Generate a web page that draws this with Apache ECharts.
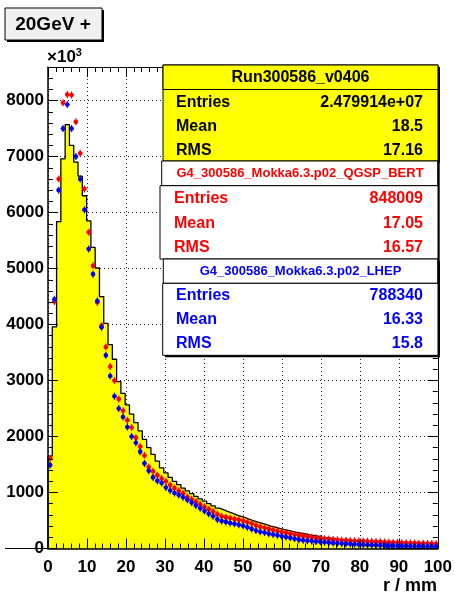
<!DOCTYPE html>
<html>
<head>
<meta charset="utf-8">
<script src="https://cdn.jsdelivr.net/npm/echarts@6/dist/echarts.min.js"></script>
<style>
html,body{margin:0;padding:0;background:#fff;}
#chart{width:455px;height:594px;}
</style>
</head>
<body>
<div id="chart"></div>
<script>
// ---- data (bin width 1.1 mm, bins starting at r = 0) ----
const binWidth = 1.1;
const xTickLabels = ['0','10','20','30','40','50','60','70','80','90','100'];
const yTickLabels = ['0','1000','2000','3000','4000','5000','6000','7000','8000'];

// Data run (yellow histogram)
const dataRun = [1650, 3960, 5840, 6960, 7570, 7200, 6900, 6650, 6300, 5850,
 5380, 5010, 4500, 4020, 3640, 3380, 2980, 2770, 2565, 2400,
 2250, 2100, 1950, 1800, 1680, 1560, 1440, 1350, 1270, 1200,
 1140, 1080, 1030, 980, 930, 885, 845, 800, 760, 720,
 690, 660, 630, 600, 575, 550, 520, 495, 470, 450,
 425, 400, 380, 360, 340, 325, 305, 290, 275, 260,
 245, 232, 220, 205, 195, 185, 175, 162, 152, 148,
 142, 138, 132, 128, 122, 115, 108, 100, 90, 0,
 0, 0, 0, 0, 0, 0, 0, 0, 0, 0, 0];

// G4 QGSP_BERT (red points)
const qgspBert = [1610, 4410, 6600, 7960, 8110, 8100, 7620, 7060, 6420, 5650,
 5050, 4400, 3980, 3600, 3250, 3000, 2670, 2460, 2290, 2160,
 1980, 1820, 1660, 1455, 1380, 1310, 1250, 1200, 1135, 1080,
 1030, 985, 920, 880, 840, 790, 745, 700, 660, 610,
 575, 560, 545, 525, 515, 495, 470, 445, 415, 390,
 370, 350, 330, 310, 295, 280, 265, 250, 235, 225,
 215, 200, 190, 180, 175, 168, 160, 155, 148, 145,
 140, 138, 135, 132, 128, 124, 122, 120, 115, 112,
 108, 106, 104, 100, 98, 97, 95, 93, 90, 88, 85];

// G4 LHEP (blue points)
const lhep = [1490, 4450, 6400, 7500, 7930, 7500, 7000, 6600, 6050, 5350,
 4900, 4420, 3950, 3450, 3080, 2720, 2500, 2350, 2170, 2000,
 1890, 1730, 1520, 1390, 1270, 1210, 1170, 1090, 1035, 990,
 955, 915, 870, 820, 770, 720, 670, 620, 575, 520,
 490, 475, 455, 440, 425, 405, 380, 350, 320, 300,
 285, 265, 250, 235, 220, 205, 190, 175, 158, 148,
 140, 132, 125, 120, 112, 105, 98, 92, 88, 85,
 80, 76, 72, 68, 64, 60, 57, 55, 52, 50,
 48, 46, 45, 44, 42, 41, 40, 39, 37, 36, 35];

const statsData = ['Entries','Mean','RMS'];
const statsRun = ['2.479914e+07','18.5','17.16'];
const statsBert = ['848009','17.05','16.57'];
const statsLhep = ['788340','16.33','15.8'];

// ---- build ----
const FONT = '"Liberation Sans", Arial, Helvetica, sans-serif';
const X_MIN = 0, X_MAX = 100, Y_MIN = 0, Y_MAX = 8600;

const histPts = [[0, 0]];
dataRun.forEach((v, k) => histPts.push([k * binWidth, v]));
histPts.push([dataRun.length * binWidth, 0]);

const toPts = arr => arr.map((v, k) => [(k + 0.5) * binWidth, v]);

function markerRenderer(color) {
  return function (params, api) {
    const x = api.value(0), y = api.value(1);
    const c = api.coord([x, y]);
    const l = api.coord([x - binWidth / 2, y]);
    const r = api.coord([x + binWidth / 2, y]);
    return {
      type: 'group',
      children: [
        {type: 'line', shape: {x1: l[0], y1: c[1], x2: r[0], y2: c[1]}, style: {stroke: color, lineWidth: 1.2}},
        {type: 'line', shape: {x1: c[0], y1: c[1] - 3.5, x2: c[0], y2: c[1] + 3.5}, style: {stroke: color, lineWidth: 1.2}},
        {type: 'circle', shape: {cx: c[0], cy: c[1], r: 2.3}, style: {fill: color}}
      ]
    };
  };
}

const labelStyle = {color: '#000', fontFamily: FONT, fontWeight: 'bold', fontSize: 17};

function xAx(opts) {
  return Object.assign({
    type: 'value', min: X_MIN, max: X_MAX, interval: 10,
    axisLine: {show: false, onZero: false},
    axisTick: {show: false}, axisLabel: {show: false}, splitLine: {show: false}
  }, opts);
}
function yAx(opts) {
  return Object.assign({
    type: 'value', min: Y_MIN, max: Y_MAX, interval: 1000,
    axisLine: {show: false, onZero: false},
    axisTick: {show: false}, axisLabel: {show: false}, splitLine: {show: false}
  }, opts);
}

const gridLine = {show: true, lineStyle: {color: '#222', width: 1, type: [1, 3]}};

const xAxes = [
  xAx({position: 'bottom', z: 0,
       axisLabel: Object.assign({show: true, margin: 10,
         formatter: v => xTickLabels[Math.round(v / 10)] ?? ''}, labelStyle),
       splitLine: gridLine}),
  xAx({position: 'bottom', z: 10, axisLine: {show: true, onZero: false, lineStyle: {color: '#000', width: 1.5}},
       axisTick: {show: true, inside: true, length: 10, lineStyle: {color: '#000'}}}),
  xAx({position: 'bottom', z: 10, interval: 2,
       axisTick: {show: true, inside: true, length: 5, lineStyle: {color: '#000'}}}),
  xAx({position: 'top', z: 10, axisLine: {show: true, onZero: false, lineStyle: {color: '#000', width: 1}},
       axisTick: {show: true, inside: true, length: 10, lineStyle: {color: '#000'}}}),
  xAx({position: 'top', z: 10, interval: 2,
       axisTick: {show: true, inside: true, length: 5, lineStyle: {color: '#000'}}})
];
const yAxes = [
  yAx({position: 'left', z: 0,
       axisLabel: Object.assign({show: true, margin: 4,
         formatter: v => (v % 1000 === 0 ? yTickLabels[v / 1000] ?? '' : '')}, labelStyle),
       splitLine: gridLine}),
  yAx({position: 'left', z: 10, axisLine: {show: true, onZero: false, lineStyle: {color: '#000', width: 1.5}},
       axisTick: {show: true, inside: true, length: 10, lineStyle: {color: '#000'}}}),
  yAx({position: 'left', z: 10, interval: 200,
       axisTick: {show: true, inside: true, length: 5, lineStyle: {color: '#000'}}}),
  yAx({position: 'right', z: 10, axisLine: {show: true, onZero: false, lineStyle: {color: '#000', width: 1}},
       axisTick: {show: true, inside: true, length: 10, lineStyle: {color: '#000'}}}),
  yAx({position: 'right', z: 10, interval: 200,
       axisTick: {show: true, inside: true, length: 5, lineStyle: {color: '#000'}}})
];

// ---- stat boxes as graphics ----
const graphics = [];
function rect(x, y, w, h, fill, z) {
  graphics.push({type: 'rect', z: z || 100, shape: {x, y, width: w, height: h},
    style: {fill, stroke: '#000', lineWidth: 1}});
}
function txt(x, y, text, color, size, align) {
  graphics.push({type: 'text', z: 110, x, y,
    style: {text, fill: color, font: 'bold ' + size + 'px ' + FONT, textAlign: align || 'left', textVerticalAlign: 'middle'}});
}
function shadow(x, y, w, h) {
  graphics.push({type: 'rect', z: 99, shape: {x: x + 2, y: y + 2, width: w, height: h}, style: {fill: '#000'}});
}

// title pad
shadow(5, 8, 97, 32);
rect(5, 8, 97, 32, '#f0f0f0');
txt(53, 24.5, '20GeV +', '#000', 19, 'center');

// ×10^3
graphics.push({type: 'text', z: 110, x: 47, y: 57,
  style: {text: '{a|×10}{b|3}', textVerticalAlign: 'middle',
    rich: {a: {font: 'bold 17px ' + FONT, fill: '#000'},
           b: {font: 'bold 11px ' + FONT, fill: '#000', verticalAlign: 'top', padding: [0, 0, 9, 0]}}}});

// axis title
txt(437, 586, 'r / mm', '#000', 18, 'right');

// box 1 : data
shadow(163, 65, 275, 96);
rect(163, 65, 275, 96, '#ffff00');
rect(163, 65, 275, 24.5, '#ffff00');
txt(300.5, 77.5, 'Run300586_v0406', '#000', 16, 'center');
[102.7, 126.7, 150.7].forEach((y, i) => {
  txt(176, y, statsData[i], '#000', 16, 'left');
  txt(423, y, statsRun[i], '#000', 16, 'right');
});

// box 2 : QGSP_BERT
shadow(161.7, 161, 276, 98);
rect(161.7, 161, 276, 24.7, '#ffffff');
txt(300, 173.5, 'G4_300586_Mokka6.3.p02_QGSP_BERT', '#ff0000', 13, 'center');
rect(160, 185.7, 278, 73.3, '#ffffff');
[199, 224, 247.3].forEach((y, i) => {
  txt(174, y, statsData[i], '#ff0000', 16, 'left');
  txt(423, y, statsBert[i], '#ff0000', 16, 'right');
});

// box 3 : LHEP
shadow(163, 259, 275, 96.3);
rect(163.3, 259, 274.4, 24.3, '#ffffff');
txt(300.5, 271, 'G4_300586_Mokka6.3.p02_LHEP', '#0000ff', 13, 'center');
rect(162.7, 283.3, 275.3, 72, '#ffffff');
[295.7, 320, 343.3].forEach((y, i) => {
  txt(176, y, statsData[i], '#0000ff', 16, 'left');
  txt(423, y, statsLhep[i], '#0000ff', 16, 'right');
});

// stray line through the "0" label (ROOT artefact)
graphics.push({type: 'line', z: 50, shape: {x1: 5, y1: 548.5, x2: 48, y2: 548.5}, style: {stroke: '#000', lineWidth: 1.2}});

const chart = echarts.init(document.getElementById('chart'), null, {renderer: 'canvas'});
chart.setOption({
  animation: false,
  backgroundColor: '#ffffff',
  grid: {left: 48, right: 17, top: 67, bottom: 45.5, show: false},
  xAxis: xAxes,
  yAxis: yAxes,
  series: [
    {type: 'line', xAxisIndex: 0, yAxisIndex: 0, step: 'end', data: histPts,
     symbol: 'none', z: 2, clip: true,
     lineStyle: {color: '#000', width: 1.3},
     areaStyle: {color: '#ffff00', opacity: 1}},
    {type: 'custom', xAxisIndex: 0, yAxisIndex: 0, z: 3, clip: true,
     data: toPts(qgspBert), renderItem: markerRenderer('#ff0000')},
    {type: 'custom', xAxisIndex: 0, yAxisIndex: 0, z: 4, clip: true,
     data: toPts(lhep), renderItem: markerRenderer('#0000ff')}
  ],
  graphic: graphics
});
</script>
</body>
</html>
